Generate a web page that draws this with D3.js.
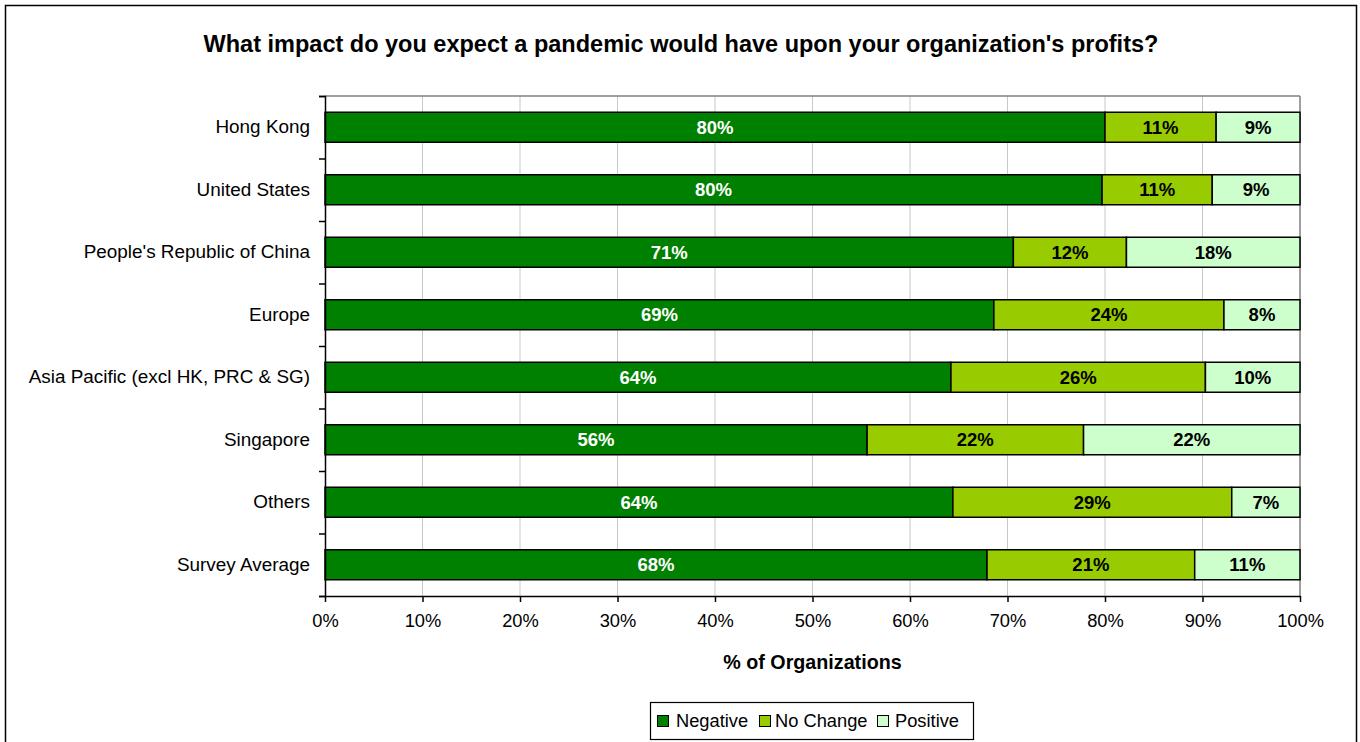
<!DOCTYPE html>
<html>
<head>
<meta charset="utf-8">
<script src="https://cdn.jsdelivr.net/npm/d3@7"></script>
<style>
  html, body { margin: 0; padding: 0; background: #fff; }
  svg { display: block; font-family: "Liberation Sans", Arial, sans-serif; }
</style>
</head>
<body>
<svg id="chart" width="1360" height="742"></svg>
<script>
// Survey responses, share of organizations per region
const categories = [
  "Hong Kong",
  "United States",
  "People's Republic of China",
  "Europe",
  "Asia Pacific (excl HK, PRC & SG)",
  "Singapore",
  "Others",
  "Survey Average"
];
const seriesNames = ["Negative", "No Change", "Positive"];
const negative = [0.800, 0.797, 0.706, 0.686, 0.642, 0.556, 0.644, 0.679];
const noChange = [0.114, 0.113, 0.116, 0.236, 0.261, 0.222, 0.286, 0.213];
const positive = [0.086, 0.090, 0.178, 0.078, 0.097, 0.222, 0.070, 0.108];
const xTicks = [0, 0.1, 0.2, 0.3, 0.4, 0.5, 0.6, 0.7, 0.8, 0.9, 1.0];

const colors = ["#008000", "#99cc00", "#ccffcc"];
const labelColors = ["#ffffff", "#000000", "#000000"];

const rows = categories.map((c, i) => ({
  category: c,
  "Negative": negative[i],
  "No Change": noChange[i],
  "Positive": positive[i]
}));

const svg = d3.select("#chart");
const plot = { left: 325, right: 1300, top: 96, bottom: 596 };

// outer chart frame
svg.append("rect")
  .attr("x", 5.5).attr("y", 5.5)
  .attr("width", 1351).attr("height", 800)
  .attr("fill", "#fff").attr("stroke", "#000").attr("stroke-width", 1.5);

// title
svg.append("text")
  .attr("x", 681).attr("y", 52)
  .attr("text-anchor", "middle")
  .attr("font-size", 23.5).attr("font-weight", "bold")
  .text("What impact do you expect a pandemic would have upon your organization's profits?");

const x = d3.scaleLinear().domain([0, 1]).range([plot.left, plot.right]);
const y = d3.scaleBand().domain(categories)
  .range([plot.top, plot.bottom])
  .paddingInner(0.52).paddingOuter(0.26);
const yIdx = d3.scaleLinear().domain([0, categories.length]).range([plot.top, plot.bottom]);

// vertical gridlines
svg.append("g")
  .selectAll("line")
  .data(xTicks.slice(1))
  .join("line")
  .attr("x1", d => x(d)).attr("x2", d => x(d))
  .attr("y1", plot.top).attr("y2", plot.bottom)
  .attr("stroke", d => d === 1 ? "#808080" : "#c8c8c8")
  .attr("stroke-width", d => d === 1 ? 1.5 : 1);

// top edge of plot area
svg.append("line")
  .attr("x1", plot.left).attr("x2", plot.right)
  .attr("y1", plot.top).attr("y2", plot.top)
  .attr("stroke", "#808080").attr("stroke-width", 1.5);

// stacked bars
const stack = d3.stack().keys(seriesNames);
const stacked = stack(rows);

const layers = svg.append("g").selectAll("g")
  .data(stacked)
  .join("g")
  .attr("fill", (d, i) => colors[i]);

layers.selectAll("rect")
  .data(d => d)
  .join("rect")
  .attr("x", d => x(d[0]))
  .attr("y", d => y(d.data.category))
  .attr("width", d => x(d[1]) - x(d[0]))
  .attr("height", y.bandwidth())
  .attr("stroke", "#000")
  .attr("stroke-width", 1.5);

// value labels
const fmt = d3.format(".0%");
stacked.forEach((layer, i) => {
  svg.append("g")
    .selectAll("text")
    .data(layer)
    .join("text")
    .attr("x", d => (x(d[0]) + x(d[1])) / 2)
    .attr("y", d => y(d.data.category) + y.bandwidth() / 2)
    .attr("dy", "0.36em")
    .attr("text-anchor", "middle")
    .attr("font-size", 18.5)
    .attr("font-weight", "bold")
    .attr("fill", labelColors[i])
    .text(d => fmt(d[1] - d[0]));
});

// category axis
const yAxisLabels = svg.append("g")
  .attr("transform", `translate(${plot.left},0)`)
  .call(d3.axisLeft(y).tickSize(0).tickPadding(15));
yAxisLabels.select(".domain").remove();
yAxisLabels.selectAll("text")
  .attr("font-size", 18.9)
  .attr("font-family", "Liberation Sans, Arial, sans-serif")
  .attr("fill", "#000");

const yAxisTicks = svg.append("g")
  .attr("transform", `translate(${plot.left},0)`)
  .call(d3.axisLeft(yIdx).tickValues(d3.range(categories.length + 1)).tickSize(6).tickFormat(""));
yAxisTicks.selectAll("line, path").attr("stroke", "#000").attr("stroke-width", 1.5);

// value axis
const xAxis = svg.append("g")
  .attr("transform", `translate(0,${plot.bottom})`)
  .call(d3.axisBottom(x).tickValues(xTicks).tickFormat(fmt).tickSize(6).tickPadding(12).tickSizeOuter(0));
xAxis.selectAll("line, path").attr("stroke", "#000").attr("stroke-width", 1.5);
xAxis.selectAll("text")
  .attr("font-size", 18.3)
  .attr("font-family", "Liberation Sans, Arial, sans-serif")
  .attr("fill", "#000");

// axis title
svg.append("text")
  .attr("x", (plot.left + plot.right) / 2).attr("y", 669)
  .attr("text-anchor", "middle")
  .attr("font-size", 19.7).attr("font-weight", "bold")
  .text("% of Organizations");

// legend
const legend = svg.append("g");
legend.append("rect")
  .attr("x", 650.5).attr("y", 702.5)
  .attr("width", 323).attr("height", 37)
  .attr("fill", "#fff").attr("stroke", "#000").attr("stroke-width", 1.2);

const legendSwatchX = [657, 759, 877];
const legendTextX = [676, 775, 895];
seriesNames.forEach((name, i) => {
  legend.append("rect")
    .attr("x", legendSwatchX[i] + 0.5).attr("y", 715.5)
    .attr("width", 11).attr("height", 11)
    .attr("fill", colors[i]).attr("stroke", "#000").attr("stroke-width", 1);
  legend.append("text")
    .attr("x", legendTextX[i]).attr("y", 727)
    .attr("font-size", 18.3)
    .text(name);
});
</script>
</body>
</html>
